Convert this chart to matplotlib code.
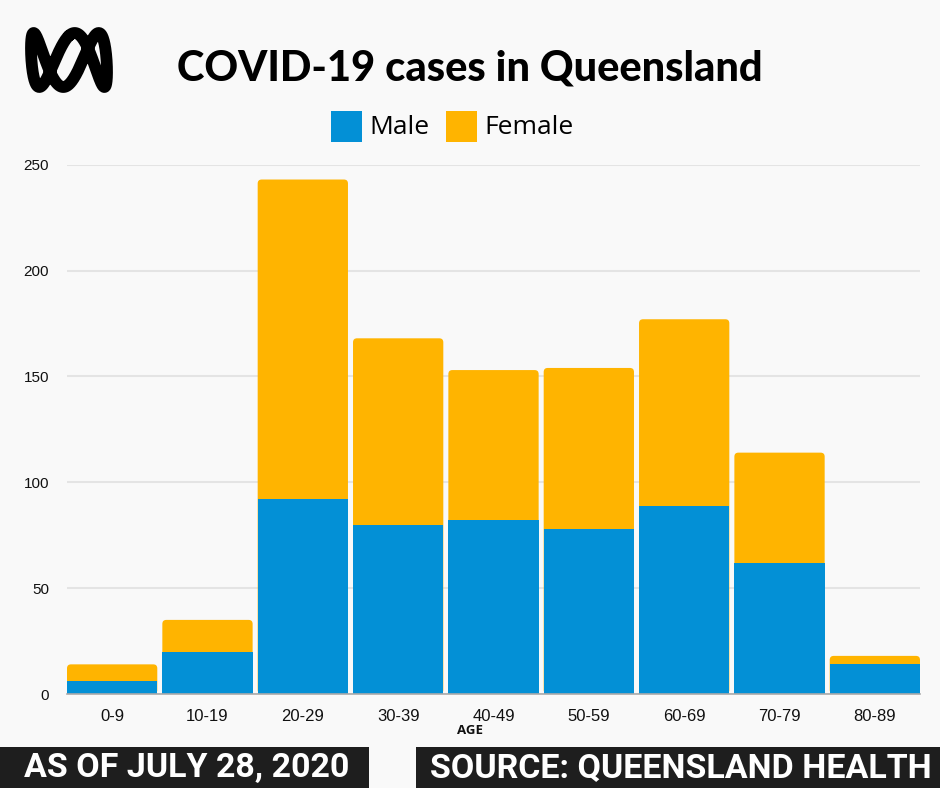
import numpy as np
import matplotlib
matplotlib.use("Agg")
import matplotlib.pyplot as plt
from matplotlib.patches import FancyBboxPatch, Rectangle

# ---- data ----
age_groups = ["0-9", "10-19", "20-29", "30-39", "40-49", "50-59", "60-69", "70-79", "80-89"]
male = [6, 20, 92, 80, 82, 78, 89, 62, 14]
female = [8, 15, 151, 88, 71, 76, 88, 52, 4]
yticks = [0, 50, 100, 150, 200, 250]

BLUE = "#0390d6"
ORANGE = "#ffb400"
BG = "#f9f9f9"
DARK = "#1e1e1e"

W, H = 940, 788
fig = plt.figure(figsize=(W / 100, H / 100), dpi=100)
fig.patch.set_facecolor(BG)

def fx(px):
    return px / W

def fy(py):
    return 1 - py / H

# main axes
ax_left, ax_right = 67, 920
ax_top, ax_bottom = 164.7, 694
ax = fig.add_axes([fx(ax_left), fy(ax_bottom), fx(ax_right - ax_left), (ax_bottom - ax_top) / H])
ax.set_facecolor(BG)

n = len(age_groups)
x = np.arange(n)
bw = 0.947
ax.set_xlim(-bw / 2, n - 1 + bw / 2)
ax.set_ylim(0, 250)

fb = ax.bar(x, female, bottom=male, width=bw, color=ORANGE, zorder=2, linewidth=0)
mb = ax.bar(x, male, width=bw, color=BLUE, zorder=4, linewidth=0)

# rounded top corners: draw each female segment as a rounded box reaching
# down to the baseline, hidden below by the male bar drawn on top
px_per_x = (ax_right - ax_left) / (n - 1 + bw)
px_per_y = (ax_bottom - ax_top) / 250
r_px = 4.0
r_x = r_px / px_per_x
aspect = px_per_x / px_per_y
for rect in fb.patches:
    x0, y0 = rect.get_x(), rect.get_y()
    w, h = rect.get_width(), rect.get_height()
    rect.set_visible(False)
    rb = FancyBboxPatch((x0, 0), w, y0 + h,
                        boxstyle=f"round,pad=0,rounding_size={r_x}",
                        mutation_aspect=aspect, facecolor=ORANGE,
                        edgecolor="none", zorder=3)
    ax.add_patch(rb)

ax.set_yticks(yticks)
ax.yaxis.grid(True, color="#e4e4e4", linewidth=1.5, zorder=0)
ax.set_axisbelow(True)
for s in ["top", "right", "left"]:
    ax.spines[s].set_visible(False)
ax.spines["bottom"].set_color("#aaaaaa")
ax.spines["bottom"].set_linewidth(1.2)
ax.spines["bottom"].set_zorder(5)
ax.tick_params(axis="both", length=0)
ax.tick_params(axis="y", pad=13, labelsize=11, labelcolor="#111111")
ax.tick_params(axis="x", pad=11, labelsize=12, labelcolor="#111111")
ax.set_xticks(x)
ax.set_xticklabels(age_groups, family="Liberation Sans")
for lbl in ax.get_yticklabels():
    lbl.set_family("Liberation Sans")

fig.text(fx(470), fy(731), "AGE", ha="center", va="center",
         fontsize=9.5, fontweight="bold", family="Open Sans", color="#111111")

# title
fig.text(fx(470), fy(69), "COVID-19 cases in Queensland", ha="center", va="center",
         fontsize=30, fontweight="black", family="Lato", color="#000000")

# legend
sq = 31
for (lx, label, col) in [(331, "Male", BLUE), (446, "Female", ORANGE)]:
    fig.patches.append(Rectangle((fx(lx), fy(142)), sq / W, sq / H,
                                 transform=fig.transFigure, facecolor=col,
                                 edgecolor="none"))
    fig.text(fx(lx + 38), fy(127), label, ha="left", va="center",
             fontsize=19, family="Open Sans", color="#000000")

# logo (ABC lissajous)
lax = fig.add_axes([fx(31), fy(87), fx(76), 54 / H])
lax.set_axis_off()
t = np.linspace(0, 2 * np.pi, 800)
phi = np.pi / 2 - 0.45
lax.plot(np.sin(t), np.sin(3 * t + phi), color="black", linewidth=8.5,
         solid_capstyle="round", solid_joinstyle="round")
lax.set_xlim(-1.0, 1.0)
lax.set_ylim(-1.0, 1.0)
for c in lax.get_children():
    try:
        c.set_clip_on(False)
    except Exception:
        pass

# bottom banners
fig.patches.append(Rectangle((0, 0), fx(369), (H - 746.5) / H,
                             transform=fig.transFigure, facecolor=DARK, edgecolor="none"))
fig.patches.append(Rectangle((fx(415.5), 0), fx(W - 415.5), (H - 746.5) / H,
                             transform=fig.transFigure, facecolor=DARK, edgecolor="none"))
fig.text(fx(187), fy(768), "AS OF JULY 28, 2020", ha="center", va="center",
         fontsize=24.5, fontweight="bold", family=["Liberation Sans Narrow", "Roboto"],
         color="white")
fig.text(fx(681), fy(768), "SOURCE: QUEENSLAND HEALTH", ha="center", va="center",
         fontsize=24.5, fontweight="bold", family=["Liberation Sans Narrow", "Roboto"],
         color="white")

fig.savefig("out.png", dpi=100, facecolor=BG)
